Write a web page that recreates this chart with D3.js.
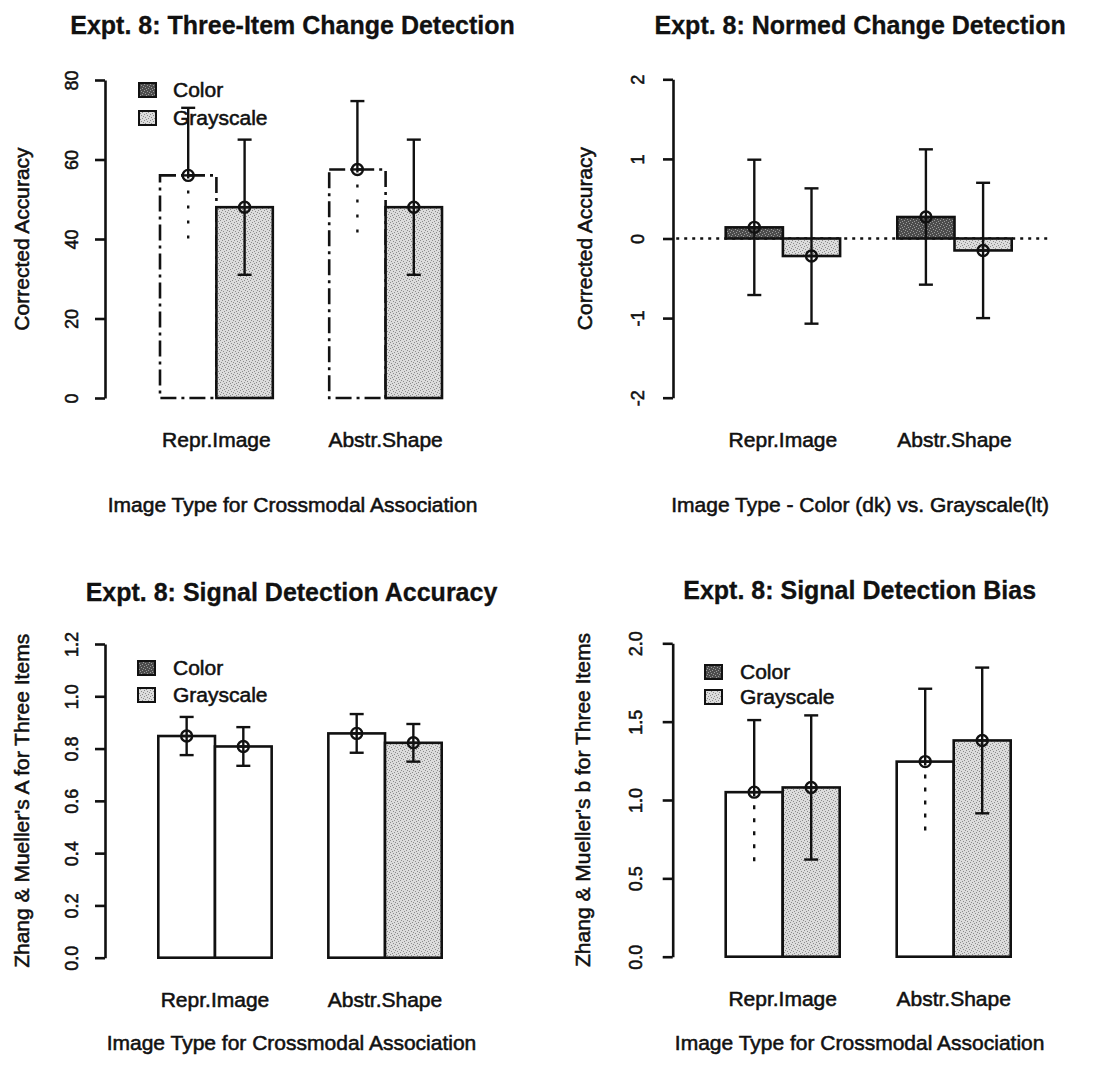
<!DOCTYPE html>
<html>
<head>
<meta charset="utf-8">
<script src="https://cdn.jsdelivr.net/npm/d3@7"></script>
<style>
  body { margin: 0; background: #fff; }
  svg { display: block; font-family: "Liberation Sans", Arial, sans-serif; }
  .lab { font-size: 21px; fill: #111; stroke: #111; stroke-width: 0.55px; }
  .tick text { font-size: 18px; fill: #111; stroke: #111; stroke-width: 0.55px; }
  .ttl { font-size: 25px; font-weight: bold; fill: #111; stroke: #111; stroke-width: 0.3px; }
</style>
</head>
<body>
<div id="chart"></div>
<script>
const categories = ["Repr.Image", "Abstr.Shape"];
const seriesNames = ["Color", "Grayscale"];

// Expt. 8: Three-Item Change Detection
const changeColor = [56, 57.5];
const changeGray = [48, 48];
const changeColorErr = [17, 17.2];
const changeGrayErr = [17, 17];
const changeTicks = [0, 20, 40, 60, 80];

// Expt. 8: Normed Change Detection
const normedColor = [0.14, 0.27];
const normedGray = [-0.22, -0.15];
const normedColorErr = [0.85, 0.85];
const normedGrayErr = [0.85, 0.85];
const normedTicks = [-2, -1, 0, 1, 2];

// Expt. 8: Signal Detection Accuracy
const accColor = [0.848, 0.858];
const accGray = [0.808, 0.822];
const accColorErr = [0.073, 0.074];
const accGrayErr = [0.074, 0.072];
const accTicks = [0, 0.2, 0.4, 0.6, 0.8, 1.0, 1.2];

// Expt. 8: Signal Detection Bias
const biasColor = [1.05, 1.245];
const biasGray = [1.08, 1.38];
const biasColorErr = [0.46, 0.465];
const biasGrayErr = [0.46, 0.465];
const biasTicks = [0, 0.5, 1.0, 1.5, 2.0];

const svg = d3.select("#chart")
  .append("svg")
  .attr("width", 1105)
  .attr("height", 1069);

// stipple fills like the printed figure
const defs = svg.append("defs");
function stipple(id, base, dot) {
  const p = defs.append("pattern")
    .attr("id", id)
    .attr("width", 6)
    .attr("height", 6)
    .attr("patternUnits", "userSpaceOnUse");
  p.append("rect").attr("width", 6).attr("height", 6).attr("fill", base);
  [[0, 0], [3, 1], [1, 3], [4, 4], [2, 5], [5, 2]].forEach(d => {
    p.append("rect").attr("x", d[0]).attr("y", d[1])
      .attr("width", 1).attr("height", 1).attr("fill", dot);
  });
}
stipple("lt", "#dcdcdc", "#8c8c8c");
stipple("dk", "#4c4c4c", "#9a9a9a");

const LT = "url(#lt)", DK = "url(#dk)";
const plainNum = d => String(d);   // R prints a hyphen minus
const oneDec = d3.format(".1f");

const panels = [
  {
    title: "Expt. 8: Three-Item Change Detection",
    yTitle: "Corrected Accuracy",
    xTitle: "Image Type for Crossmodal Association",
    color: changeColor, gray: changeGray, colorErr: changeColorErr, grayErr: changeGrayErr,
    ticks: changeTicks, fmt: plainNum,
    axisX: 105, barX: [160, 442], yPix: [398, 80],
    titleY: 25, catY: 440, xTitleY: 505, yTitleX: 22, tickOff: 33,
    colorFill: ["#fff", "#fff"], grayFill: [LT, LT],
    colorDash: "16,5,3,5", lowerDash: "3,12",
    legend: { x: 139, y: [90, 118], tx: 173 }
  },
  {
    title: "Expt. 8: Normed Change Detection",
    yTitle: "Corrected Accuracy",
    xTitle: "Image Type - Color (dk) vs. Grayscale(lt)",
    color: normedColor, gray: normedGray, colorErr: normedColorErr, grayErr: normedGrayErr,
    ticks: normedTicks, fmt: plainNum,
    axisX: 673, barX: [725.7, 1011.7], yPix: [397.7, 79.3],
    titleY: 25, catY: 440, xTitleY: 505, yTitleX: 585, tickOff: 35,
    colorFill: [DK, DK], grayFill: [LT, LT],
    zeroLine: true
  },
  {
    title: "Expt. 8: Signal Detection Accuracy",
    yTitle: "Zhang & Mueller's A for Three Items",
    xTitle: "Image Type for Crossmodal Association",
    color: accColor, gray: accGray, colorErr: accColorErr, grayErr: accGrayErr,
    ticks: accTicks, fmt: oneDec,
    axisX: 105, barX: [158.3, 441.7], yPix: [957.7, 644],
    titleY: 592, catY: 1000, xTitleY: 1043, yTitleX: 22, tickOff: 33,
    colorFill: ["#fff", "#fff"], grayFill: ["#fff", LT],
    legend: { x: 138, y: [668, 695], tx: 173 }
  },
  {
    title: "Expt. 8: Signal Detection Bias",
    yTitle: "Zhang & Mueller's b for Three Items",
    xTitle: "Image Type for Crossmodal Association",
    color: biasColor, gray: biasGray, colorErr: biasColorErr, grayErr: biasGrayErr,
    ticks: biasTicks, fmt: oneDec,
    axisX: 672.7, barX: [725.7, 1010.7], yPix: [956.7, 643.3],
    titleY: 590, catY: 999, xTitleY: 1043, yTitleX: 583, tickOff: 37,
    colorFill: ["#fff", "#fff"], grayFill: [LT, LT],
    lowerDash: "4,9",
    legend: { x: 705, y: [672, 697], tx: 740 }
  }
];

panels.forEach(drawPanel);

function drawPanel(p) {
  const g = svg.append("g");

  // bar units as in barplot(beside=TRUE): bars at [1,2],[2,3] and [4,5],[5,6]
  const x = d3.scaleLinear().domain([1, 6]).range(p.barX);
  const y = d3.scaleLinear()
    .domain([p.ticks[0], p.ticks[p.ticks.length - 1]])
    .range(p.yPix);
  const plotLeft = x(0.03), plotRight = x(6.67);
  const midX = (plotLeft + plotRight) / 2;

  if (p.zeroLine) {
    g.append("line")
      .attr("x1", plotLeft + 6).attr("x2", plotRight)
      .attr("y1", y(0)).attr("y2", y(0))
      .attr("stroke", "#111").attr("stroke-width", 2.6)
      .attr("stroke-dasharray", "3,5");
  }

  // y axis
  const yAxis = g.append("g")
    .attr("transform", `translate(${p.axisX},0)`)
    .call(d3.axisLeft(y).tickValues(p.ticks).tickFormat(p.fmt).tickSize(10).tickSizeOuter(0));
  yAxis.select(".domain").attr("stroke", "#111").attr("stroke-width", 2.6);
  yAxis.selectAll(".tick line").attr("stroke", "#111").attr("stroke-width", 2.6);
  yAxis.selectAll(".tick text")
    .attr("transform", "rotate(-90)")
    .attr("x", 0)
    .attr("y", -p.tickOff)
    .attr("dy", "0.35em")
    .attr("text-anchor", "middle")
    .attr("font-family", null);

  // bars
  const bars = [];
  categories.forEach((c, i) => {
    bars.push({ left: 1 + 3 * i, v: p.color[i], e: p.colorErr[i], fill: p.colorFill[i], isColor: true });
    bars.push({ left: 2 + 3 * i, v: p.gray[i], e: p.grayErr[i], fill: p.grayFill[i], isColor: false });
  });

  g.selectAll("rect.bar")
    .data(bars)
    .enter()
    .append("rect")
    .attr("class", "bar")
    .attr("x", d => x(d.left))
    .attr("width", d => x(d.left + 1) - x(d.left))
    .attr("y", d => Math.min(y(0), y(d.v)))
    .attr("height", d => Math.abs(y(0) - y(d.v)))
    .attr("fill", d => d.fill)
    .attr("stroke", "#111")
    .attr("stroke-width", 2.6)
    .attr("stroke-dasharray", d => (d.isColor && p.colorDash) ? p.colorDash : null);

  // error bars with R-style circle-plus markers
  bars.forEach(d => {
    const cx = x(d.left + 0.5);
    const eg = g.append("g").attr("stroke", "#111").attr("stroke-width", 2.4).attr("fill", "none");
    const dashLow = d.isColor && p.lowerDash;
    eg.append("line")
      .attr("x1", cx).attr("x2", cx)
      .attr("y1", y(d.v + d.e)).attr("y2", y(d.v));
    eg.append("line")
      .attr("x1", cx).attr("x2", cx)
      .attr("y1", y(d.v)).attr("y2", y(d.v - d.e))
      .attr("stroke-dasharray", dashLow ? p.lowerDash : null);
    eg.append("line")
      .attr("x1", cx - 7).attr("x2", cx + 7)
      .attr("y1", y(d.v + d.e)).attr("y2", y(d.v + d.e));
    if (!dashLow) {
      eg.append("line")
        .attr("x1", cx - 7).attr("x2", cx + 7)
        .attr("y1", y(d.v - d.e)).attr("y2", y(d.v - d.e));
    }
    eg.append("circle").attr("cx", cx).attr("cy", y(d.v)).attr("r", 5.5);
    eg.append("line")
      .attr("x1", cx - 5.5).attr("x2", cx + 5.5)
      .attr("y1", y(d.v)).attr("y2", y(d.v));
  });

  // category labels
  g.selectAll("text.cat")
    .data(categories)
    .enter()
    .append("text")
    .attr("class", "lab")
    .attr("x", (d, i) => x(2 + 3 * i))
    .attr("y", p.catY)
    .attr("dy", "0.35em")
    .attr("text-anchor", "middle")
    .text(d => d);

  g.append("text")
    .attr("class", "ttl")
    .attr("x", midX)
    .attr("y", p.titleY)
    .attr("dy", "0.35em")
    .attr("text-anchor", "middle")
    .text(p.title);

  g.append("text")
    .attr("class", "lab")
    .attr("x", midX)
    .attr("y", p.xTitleY)
    .attr("dy", "0.35em")
    .attr("text-anchor", "middle")
    .text(p.xTitle);

  g.append("text")
    .attr("class", "lab")
    .attr("transform", "rotate(-90)")
    .attr("x", -(p.yPix[0] + p.yPix[1]) / 2)
    .attr("y", p.yTitleX)
    .attr("dy", "0.35em")
    .attr("text-anchor", "middle")
    .text(p.yTitle);

  if (p.legend) {
    const lg = g.append("g");
    seriesNames.forEach((s, i) => {
      lg.append("rect")
        .attr("x", p.legend.x)
        .attr("y", p.legend.y[i] - 7)
        .attr("width", 17)
        .attr("height", 14)
        .attr("fill", i === 0 ? DK : LT)
        .attr("stroke", "#111")
        .attr("stroke-width", 2);
      lg.append("text")
        .attr("class", "lab")
        .attr("x", p.legend.tx)
        .attr("y", p.legend.y[i])
        .attr("dy", "0.35em")
        .text(s);
    });
  }
}
</script>
</body>
</html>
